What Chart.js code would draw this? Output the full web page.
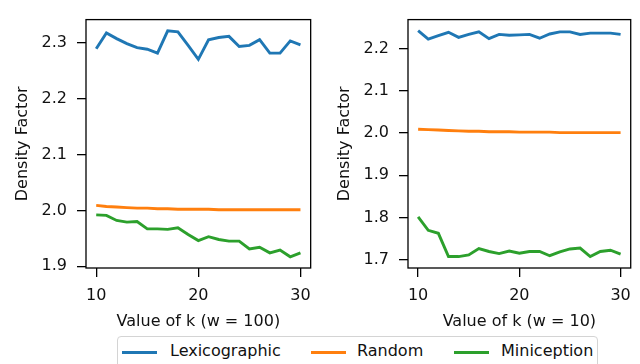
<!DOCTYPE html>
<html>
<head>
<meta charset="utf-8">
<script src="https://cdn.jsdelivr.net/npm/chart.js@4/dist/chart.umd.min.js"></script>
<style>
  body { margin: 0; background: #fff; font-family: "DejaVu Sans", sans-serif; }
  #wrap { position: relative; width: 640px; height: 364px; overflow: hidden; }
  canvas { position: absolute; top: 0; }
  #legend { position: absolute; left: 117px; top: 336px; width: 479px; height: 40px;
            border: 1px solid #d4d4d4; border-radius: 4px; background: #fff; }
  .sw { position: absolute; top: 14px; height: 3px; width: 35px; }
  .lt { position: absolute; top: 4px; font-size: 16px; color: #111; white-space: nowrap; }
</style>
</head>
<body>
<div id="wrap">
  <canvas id="leftChart" width="320" height="331" style="left:0"></canvas>
  <canvas id="rightChart" width="320" height="331" style="left:320px"></canvas>
  <div id="legend">
    <div class="sw" style="left:4px;background:#1f77b4"></div>
    <div class="lt" style="left:52px">Lexicographic</div>
    <div class="sw" style="left:193px;background:#ff7f0e"></div>
    <div class="lt" style="left:239px">Random</div>
    <div class="sw" style="left:336px;background:#2ca02c"></div>
    <div class="lt" style="left:383px">Miniception</div>
  </div>
</div>
<script>
// data
const kValues = [10, 11, 12, 13, 14, 15, 16, 17, 18, 19, 20, 21, 22, 23, 24, 25, 26, 27, 28, 29, 30];
const seriesNames = ['Lexicographic', 'Random', 'Miniception'];
const seriesColors = ['#1f77b4', '#ff7f0e', '#2ca02c'];

// w = 100
const lexW100 = [2.289, 2.317, 2.307, 2.298, 2.291, 2.288, 2.281, 2.321, 2.319, 2.295, 2.270, 2.305, 2.309, 2.311, 2.293, 2.295, 2.305, 2.281, 2.281, 2.303, 2.296];
const randW100 = [2.009, 2.007, 2.006, 2.005, 2.004, 2.004, 2.003, 2.003, 2.002, 2.002, 2.002, 2.002, 2.001, 2.001, 2.001, 2.001, 2.001, 2.001, 2.001, 2.001, 2.001];
const miniW100 = [1.992, 1.991, 1.982, 1.979, 1.980, 1.967, 1.967, 1.966, 1.969, 1.957, 1.946, 1.953, 1.948, 1.945, 1.945, 1.931, 1.934, 1.924, 1.929, 1.917, 1.924];

// w = 10
const lexW10 = [2.242, 2.222, 2.230, 2.238, 2.226, 2.233, 2.239, 2.223, 2.233, 2.231, 2.232, 2.233, 2.224, 2.234, 2.239, 2.239, 2.233, 2.236, 2.236, 2.236, 2.233];
const randW10 = [2.009, 2.008, 2.007, 2.006, 2.005, 2.004, 2.004, 2.003, 2.003, 2.003, 2.002, 2.002, 2.002, 2.002, 2.001, 2.001, 2.001, 2.001, 2.001, 2.001, 2.001];
const miniW10 = [1.802, 1.770, 1.763, 1.708, 1.708, 1.712, 1.727, 1.720, 1.715, 1.721, 1.716, 1.720, 1.720, 1.710, 1.719, 1.726, 1.728, 1.708, 1.720, 1.723, 1.714];

const xTicks = [10, 20, 30];
const yTicksW100 = [1.9, 2.0, 2.1, 2.2, 2.3];
const yTicksW10 = [1.7, 1.8, 1.9, 2.0, 2.1, 2.2];

const FONT = { family: 'DejaVu Sans', size: 16 };

// matplotlib style box around the plot area
const frame = {
    id: 'frame',
    afterDatasetsDraw(chart) {
        const a = chart.chartArea;
        const ctx = chart.ctx;
        ctx.save();
        ctx.strokeStyle = '#000';
        ctx.lineWidth = 1.3;
        ctx.strokeRect(a.left, a.top, a.right - a.left, a.bottom - a.top);
        ctx.restore();
    }
};

function makeChart(id, series, yMin, yMax, yTicks, xTitle, axisWidth, padRight, yTitlePad) {
    new Chart(document.getElementById(id), {
        type: 'line',
        data: {
            datasets: series.map((vals, i) => ({
                label: seriesNames[i],
                data: kValues.map((k, j) => ({ x: k, y: vals[j] })),
                borderColor: seriesColors[i],
                borderWidth: 2.9,
                pointRadius: 0,
                tension: 0,
                fill: false
            }))
        },
        options: {
            responsive: false,
            animation: false,
            layout: { padding: { top: 9, right: padRight, left: 0, bottom: 0 } },
            plugins: { legend: { display: false }, tooltip: { enabled: false } },
            scales: {
                x: {
                    type: 'linear',
                    min: 9,
                    max: 31,
                    afterBuildTicks: s => { s.ticks = xTicks.map(v => ({ value: v })); },
                    afterFit: s => { s.height = 63; },
                    border: { display: false },
                    grid: { drawOnChartArea: false, drawTicks: true, tickLength: 9, color: '#000', lineWidth: 1.3 },
                    ticks: { color: '#111', font: FONT, padding: 9, maxRotation: 0 },
                    title: { display: true, text: xTitle, color: '#111', font: FONT, padding: { bottom: 0 } }
                },
                y: {
                    min: yMin,
                    max: yMax,
                    afterBuildTicks: s => { s.ticks = yTicks.map(v => ({ value: v })); },
                    afterFit: s => { s.width = axisWidth; },
                    border: { display: false },
                    grid: { drawOnChartArea: false, drawTicks: true, tickLength: 9, color: '#000', lineWidth: 1.3 },
                    ticks: { color: '#111', font: FONT, padding: 10, callback: v => v.toFixed(1) },
                    title: { display: true, text: 'Density Factor', color: '#111', font: FONT, padding: { top: yTitlePad } }
                }
            }
        },
        plugins: [frame]
    });
}

makeChart('leftChart', [lexW100, randW100, miniW100], 1.897, 2.341, yTicksW100, 'Value of k (w = 100)', 86, 8, 13);
makeChart('rightChart', [lexW10, randW10, miniW10], 1.681, 2.268, yTicksW10, 'Value of k (w = 10)', 88, 5, 15);
</script>
</body>
</html>
